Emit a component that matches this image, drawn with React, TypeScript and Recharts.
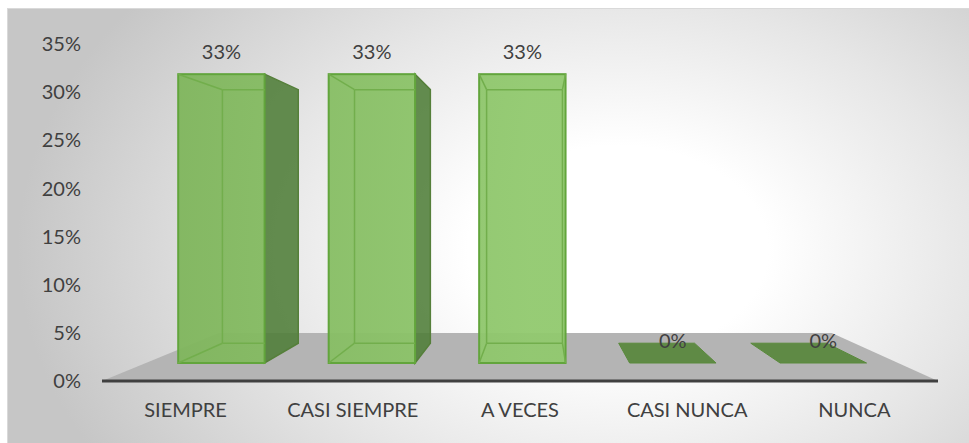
import React from "react";
import { BarChart, Bar, XAxis, YAxis, ReferenceArea, LabelList } from "recharts";

const categories = ["SIEMPRE", "CASI SIEMPRE", "A VECES", "CASI NUNCA", "NUNCA"];
const shares = [0.3333, 0.3333, 0.3333, 0, 0];
const yTicks = [0, 0.05, 0.1, 0.15, 0.2, 0.25, 0.3, 0.35];

const data = categories.map((name, i) => ({ name, value: shares[i] }));

// fake 3D: vanishing point and depth factors (chart-local coords)
const VX = 532;
const VY = 192;
const K_FRONT = 0.9;
const K_BACK = 0.79;
const K_FLOOR = 0.733;

const FONT = "Lato, 'Open Sans', sans-serif";
const TEXT = "#404040";

const proj = (x: number, y: number, k: number): [number, number] => [
  VX + k * (x - VX),
  VY + k * (y - VY),
];

const pts = (list: [number, number][]) => list.map((p) => p.join(",")).join(" ");

const Box3D = (props: any) => {
  const { x, y, width, height } = props;
  const bottom = y + height;
  const [fl, ft] = proj(x, y, K_FRONT);
  const [fr, fb] = proj(x + width, bottom, K_FRONT);
  const [bl, bt] = proj(x, y, K_BACK);
  const [br, bb] = proj(x + width, bottom, K_BACK);

  if (height < 1) {
    return (
      <polygon
        points={pts([
          [fl, fb],
          [fr, fb],
          [br, bb],
          [bl, bb],
        ])}
        fill="#5f8a45"
        stroke="#5a8a3c"
        strokeWidth={1}
      />
    );
  }

  return (
    <g>
      {br > fr && (
        <polygon
          points={pts([
            [fr, ft],
            [br, bt],
            [br, bb],
            [fr, fb],
          ])}
          fill="#4f7d38"
          fillOpacity={0.88}
          stroke="#557f3a"
          strokeWidth={1.5}
        />
      )}
      <rect
        x={fl}
        y={ft}
        width={fr - fl}
        height={fb - ft}
        fill="url(#barFront)"
        fillOpacity={0.95}
        stroke="#62a53c"
        strokeWidth={2}
      />
      <g stroke="#72ae4c" strokeWidth={1.5} fill="none">
        <line x1={bl} y1={bt} x2={bl} y2={bb} />
        <line x1={bl} y1={bt} x2={Math.min(br, fr)} y2={bt} />
        <line x1={bl} y1={bb} x2={Math.min(br, fr)} y2={bb} />
        <line x1={fl} y1={ft} x2={bl} y2={bt} />
        <line x1={fl} y1={fb} x2={bl} y2={bb} />
        {br < fr && <line x1={br} y1={bt} x2={br} y2={bb} />}
        {br < fr && <line x1={fr} y1={ft} x2={br} y2={bt} />}
        {br < fr && <line x1={fr} y1={fb} x2={br} y2={bb} />}
      </g>
    </g>
  );
};

const Floor = (props: any) => {
  const { x, y, width, height } = props;
  const bottom = y + height;
  const a = proj(x, bottom, K_FLOOR);
  const b = proj(x + width, bottom, K_FLOOR);
  return (
    <g>
      <defs>
        <linearGradient id="barFront" gradientUnits="userSpaceOnUse" x1={120} y1={0} x2={520} y2={0}>
          <stop offset="0%" stopColor="#7db35a" />
          <stop offset="100%" stopColor="#91c96e" />
        </linearGradient>
      </defs>
      <polygon
        points={pts([
          [x, bottom],
          [x + width, bottom],
          b,
          a,
        ])}
        fill="#b4b4b4"
      />
    </g>
  );
};

const BarLabel = (props: any) => {
  const { x, y, width, value } = props;
  const [cx, top] = proj(x + width / 2, y, K_FRONT);
  return (
    <text
      x={cx}
      y={top - 22}
      dy="0.35em"
      textAnchor="middle"
      fontSize={20}
      fontFamily={FONT}
      fill={TEXT}
    >
      {Math.round(value * 100) + "%"}
    </text>
  );
};

export default function App() {
  return (
    <div
      style={{
        position: "absolute",
        left: 7,
        top: 8,
        width: 970,
        height: 440,
        boxSizing: "border-box",
        border: "1px solid #d9d9d9",
        background:
          "radial-gradient(ellipse 62% 95% at 63% 55%, #ffffff 0%, #ffffff 25%, #e6e6e6 60%, #c6c6c6 100%)",
      }}
    >
      <style>{"html,body{margin:0;overflow:hidden}"}</style>
      <BarChart
        width={960}
        height={433}
        data={data}
        margin={{ top: 35, right: 30, bottom: 29, left: 34 }}
        barSize={96}
      >
        <XAxis
          dataKey="name"
          axisLine={{ stroke: "#404040", strokeWidth: 3 }}
          tickLine={false}
          tickSize={0}
          tickMargin={22}
          height={32}
          tick={{ fill: TEXT, fontSize: 20, fontFamily: FONT }}
        />
        <YAxis
          domain={[0, 0.35]}
          ticks={yTicks}
          width={60}
          axisLine={false}
          tickLine={false}
          tickSize={0}
          tickMargin={21}
          tickFormatter={(v: number) => Math.round(v * 100) + "%"}
          tick={{ fill: TEXT, fontSize: 20, fontFamily: FONT }}
        />
        <ReferenceArea y1={0} y2={0.35} shape={Floor} fillOpacity={0} />
        <Bar dataKey="value" shape={Box3D} isAnimationActive={false}>
          <LabelList dataKey="value" content={BarLabel} />
        </Bar>
      </BarChart>
    </div>
  );
}
